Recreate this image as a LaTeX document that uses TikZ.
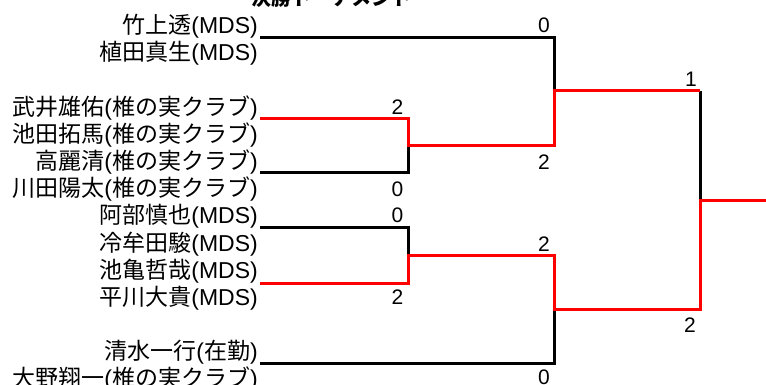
\documentclass[tikz,border=0pt]{standalone}
\usepackage{fontspec}
\setmainfont{Liberation Sans}
\newfontfamily\cjk{Noto Sans CJK JP}
\begin{document}
\begin{tikzpicture}[x=1pt,y=-1pt,
  player/.style={anchor=base east, inner sep=0pt, font=\fontsize{23}{23}\selectfont},
  score/.style={inner sep=0pt, font=\fontsize{21}{21}\selectfont},
  lose/.style={line width=3pt, black},
  win/.style={line width=3pt, red},
]
\useasboundingbox (0,0) rectangle (766,385);
\clip (0,0) rectangle (766,385);

% title (mostly cut off at the top)
\node[anchor=base, inner sep=0pt, font=\cjk\bfseries\fontsize{20}{20}\selectfont] (title) at (331,5.5) {決勝トーナメント};

% players
\node[player] (p1)  at (258,33.5)  {{\cjk 竹上透}(MDS)};
\node[player] (p2)  at (258,60.7)  {{\cjk 植田真生}(MDS)};
\node[player] (p3)  at (258,115.1) {{\cjk 武井雄佑}({\cjk 椎の実クラブ})};
\node[player] (p4)  at (258,142.3) {{\cjk 池田拓馬}({\cjk 椎の実クラブ})};
\node[player] (p5)  at (258,169.5) {{\cjk 高麗清}({\cjk 椎の実クラブ})};
\node[player] (p6)  at (258,196.7) {{\cjk 川田陽太}({\cjk 椎の実クラブ})};
\node[player] (p7)  at (258,223.9) {{\cjk 阿部慎也}(MDS)};
\node[player] (p8)  at (258,251.1) {{\cjk 冷牟田駿}(MDS)};
\node[player] (p9)  at (258,278.3) {{\cjk 池亀哲哉}(MDS)};
\node[player] (p10) at (258,305.5) {{\cjk 平川大貴}(MDS)};
\node[player] (p11) at (258,359.9) {{\cjk 清水一行}({\cjk 在勤})};
\node[player] (p12) at (258,386.5) {{\cjk 大野翔一}({\cjk 椎の実クラブ})};

% bracket points
\coordinate (t1) at (260,38);
\coordinate (t2) at (260,119);
\coordinate (t3) at (260,173);
\coordinate (t4) at (260,227);
\coordinate (t5) at (260,283);
\coordinate (t6) at (260,363);
\coordinate (q1) at (408,146);
\coordinate (q2) at (408,255);
\coordinate (s1) at (554,91);
\coordinate (s2) at (554,309);
\coordinate (f)  at (700,200);
\coordinate (fa) at (700,91);
\coordinate (champ) at (766,200);

% losers
\draw[lose] (t1) -| (s1);
\draw[lose] (t3) -| (q1);
\draw[lose] (t4) -| (q2);
\draw[lose] (t6) -| (s2);
\draw[lose] (fa) -- (f);
% winners
\draw[win] (t2) -| (q1) -| (s1) -- (fa);
\draw[win] (t5) -| (q2) -| (s2) -| (f) -- (champ);

% scores
\node[score] (c1)  at (544,25.5)  {0};
\node[score] (c2)  at (544,162.5) {2};
\node[score] (c3)  at (397.5,107) {2};
\node[score] (c4)  at (397.5,189.5) {0};
\node[score] (c5)  at (397.5,215.5) {0};
\node[score] (c6)  at (397.5,297) {2};
\node[score] (c7)  at (544,244.5) {2};
\node[score] (c8)  at (544,377.5) {0};
\node[score] (c9)  at (691,79.5)  {1};
\node[score] (c10) at (690,325)   {2};
\end{tikzpicture}
\end{document}
